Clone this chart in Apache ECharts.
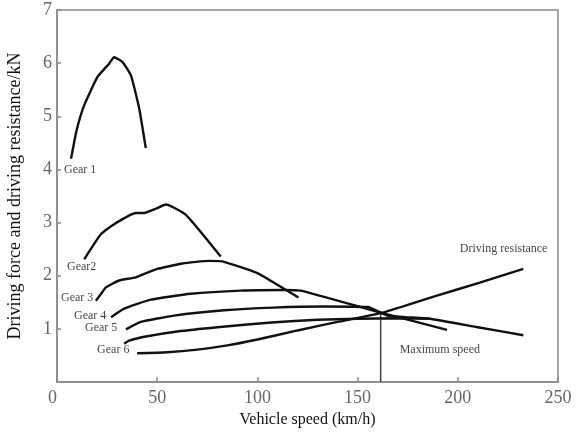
<!DOCTYPE html>
<html>
<head>
<meta charset="utf-8">
<script src="https://cdn.jsdelivr.net/npm/echarts@6/dist/echarts.min.js"></script>
<style>html,body{margin:0;padding:0;background:#fff;}#c{width:582px;height:434px;}</style>
</head>
<body>
<div id="c"></div>
<script>
// Vehicle speed (km/h), driving force (kN)
var xTicks = [0, 50, 100, 150, 200, 250];
var yTicks = [0, 1, 2, 3, 4, 5, 6, 7];
var gear1 = [[7,4.2],[9.8,4.74],[13.6,5.21],[20.2,5.74],[26,5.99],[28.5,6.11],[32.7,6.02],[36.9,5.77],[41,5.15],[44.3,4.40]];
var gear2 = [[13.6,2.31],[21.9,2.78],[28.5,2.97],[39.3,3.18],[43.5,3.18],[49.3,3.26],[54.3,3.34],[64.2,3.15],[81.7,2.36]];
var gear3 = [[19.4,1.53],[22,1.66],[24.4,1.78],[31,1.91],[39.3,1.97],[49.3,2.12],[62.6,2.23],[75.9,2.28],[82.5,2.27],[100,2.05],[110,1.83],[120.5,1.59]];
var gear4 = [[27,1.22],[33.5,1.38],[46.8,1.55],[66.7,1.66],[91.6,1.72],[113,1.73],[121.5,1.72],[160,1.32],[194.6,0.98]];
var gear5 = [[34.4,0.99],[41.8,1.13],[58.4,1.25],[83.3,1.35],[108,1.40],[133,1.42],[155,1.41],[165,1.25],[186,1.19],[210,1.03],[232.7,0.88]];
var gear6 = [[33.5,0.72],[36,0.78],[45,0.86],[60,0.95],[80,1.03],[107,1.12],[130,1.17],[150,1.19],[170,1.20],[186,1.19]];
var resistance = [[40,0.54],[55,0.56],[70,0.61],[85,0.69],[100,0.80],[120,0.97],[140,1.13],[163,1.31],[190,1.63],[211,1.87],[232.7,2.13]];
var maxSpeed = [[161.5,0],[161.5,1.31]];
var labelNames = ['Gear 1','Gear2','Gear 3','Gear 4','Gear 5','Gear 6','Driving resistance','Maximum speed'];
var labelPos = [[3.5,4.0],[5,2.17],[2,1.59],[8.5,1.25],[14,1.01],[20,0.60],[201,2.50],[171,0.60]];

var chart = echarts.init(document.getElementById('c'), null, {renderer:'canvas'});
var serif = '"Liberation Serif","DejaVu Serif",serif';
function curve(name, data){
  return {name:name, type:'line', data:data, showSymbol:false, symbol:'none', smooth:0.15,
    lineStyle:{color:'#111', width:2.4}, z:3, animation:false};
}
var labelData = labelNames.map(function(n,i){ return {value:labelPos[i], name:n}; });
chart.setOption({
  animation:false,
  backgroundColor:'#fff',
  grid:{left:57, right:24, top:10, bottom:52, outerBoundsMode:'none', containLabel:false,
    show:true, borderColor:'#8a8a8a', borderWidth:1.5, backgroundColor:'transparent'},
  xAxis:{type:'value', min:xTicks[0], max:xTicks[xTicks.length-1], interval:50,
    name:'Vehicle speed (km/h)', nameLocation:'middle', nameGap:27,
    nameTextStyle:{fontFamily:serif, fontSize:16, color:'#111'},
    axisLine:{show:true, lineStyle:{color:'#8a8a8a', width:1.5}},
    axisTick:{show:true, inside:true, length:5, lineStyle:{color:'#8a8a8a', width:1.5}},
    axisLabel:{fontFamily:serif, fontSize:18, color:'#666', margin:7, alignMinLabel:'right',
      formatter:function(v){ return xTicks.indexOf(v)>=0 ? String(v) : ''; }},
    splitLine:{show:false}},
  yAxis:{type:'value', min:yTicks[0], max:yTicks[yTicks.length-1], interval:1,
    name:'Driving force and driving resistance/kN', nameLocation:'middle', nameGap:33, nameRotate:90,
    nameTextStyle:{fontFamily:serif, fontSize:18, color:'#111'},
    axisLine:{show:true, lineStyle:{color:'#8a8a8a', width:1.5}},
    axisTick:{show:true, inside:true, length:4, lineStyle:{color:'#8a8a8a', width:1.5}},
    axisLabel:{fontFamily:serif, fontSize:18, color:'#666', margin:5, showMinLabel:false},
    splitLine:{show:false}},
  series:[
    curve('Gear 1', gear1), curve('Gear 2', gear2), curve('Gear 3', gear3),
    curve('Gear 4', gear4), curve('Gear 5', gear5), curve('Gear 6', gear6),
    curve('Driving resistance', resistance),
    {name:'Maximum speed', type:'line', data:maxSpeed, showSymbol:false, symbol:'none',
      lineStyle:{color:'#444', width:1.5}, z:2, animation:false},
    {name:'labels', type:'scatter', data:labelData, symbolSize:0, z:5, animation:false,
      label:{show:true, position:'right', distance:0, formatter:function(p){return p.name;},
        fontFamily:serif, fontSize:12, color:'#111', verticalAlign:'middle'}}
  ]
});
</script>
</body>
</html>
